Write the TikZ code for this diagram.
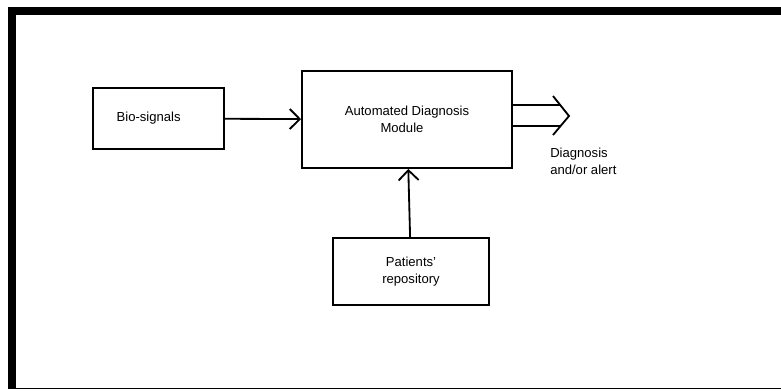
\documentclass[tikz,border=0pt]{standalone}
\usepackage{fontspec}
\setmainfont{Liberation Sans}
\usepackage{tikz}
\usetikzlibrary{
    arrows.meta,
    positioning,
    calc
}

\begin{document}
\begin{tikzpicture}[
        x=0.025cm, y=-0.025cm,
        font=\fontsize{9.3}{12}\selectfont,
        box/.style={
            draw=black,
            line width=1.3pt,
            fill=white,
            align=center,
            inner sep=2pt
        },
        arrow/.style={
            -{Straight Barb[length=2.5mm, width=5mm, line width=1.3pt]},
            line width=1.3pt
        }
    ]

    \useasboundingbox (0,0) rectangle (781,390);

    % frame
    \fill[black] (8,7) rectangle (781,15);
    \fill[black] (8,7) rectangle (16,389);
    \draw[line width=1.2pt] (16,388.4) -- (781,388.4);

    \node[box, minimum width=3.275cm, minimum height=1.525cm] (bio) at (158.5,118.5) {
        Bio-signals\hspace{4mm}
    };

    \node[box, minimum width=5.25cm, minimum height=2.425cm] (adm) at (407,119.5) {
        Automated Diagnosis\hspace{2.5mm}\\Module\hspace{2.5mm}
    };

    \node[box, minimum width=3.9cm, minimum height=1.675cm] (repo) at (411,271.5) {
        Patients'\\repository
    };

    \coordinate (alert) at (569,116);

    \node[anchor=north west, align=left, inner sep=0pt] (alertlabel) at (550,148) {
        Diagnosis\\and/or alert
    };

    \draw[arrow] (bio) -- (adm);
    \draw[arrow] (repo) -- (adm);

    % double output arrow
    \draw[line width=1.3pt] (adm.east |- 0,105) -- (560,105);
    \draw[line width=1.3pt] (adm.east |- 0,126) -- (560.5,126);
    \draw[line width=1.3pt] ($(alert)+(-16,-20)$) -- (alert) -- ($(alert)+(-16,19)$);

\end{tikzpicture}
\end{document}
